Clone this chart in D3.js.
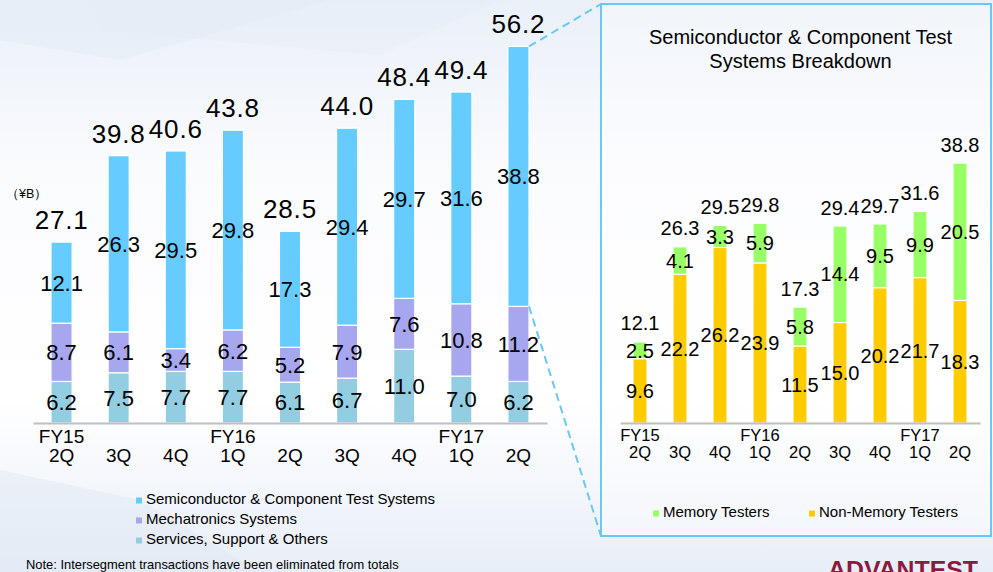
<!DOCTYPE html>
<html>
<head>
<meta charset="utf-8">
<script src="https://cdn.jsdelivr.net/npm/d3@7"></script>
<style>
  html, body { margin: 0; padding: 0; background: #fff; }
  svg { display: block; font-family: "Liberation Sans", Arial, sans-serif; }
</style>
</head>
<body>
<svg id="chart" width="993" height="572"></svg>
<script>
// ---------- DATA ----------
const fiscalYears = ["FY15", "", "", "FY16", "", "", "", "FY17", ""];
const quarters    = ["2Q", "3Q", "4Q", "1Q", "2Q", "3Q", "4Q", "1Q", "2Q"];

const servicesVals = [6.2, 7.5, 7.7, 7.7, 6.1, 6.7, 11.0, 7.0, 6.2];
const mechaVals    = [8.7, 6.1, 3.4, 6.2, 5.2, 7.9, 7.6, 10.8, 11.2];
const semiVals     = [12.1, 26.3, 29.5, 29.8, 17.3, 29.4, 29.7, 31.6, 38.8];
const totalVals    = [27.1, 39.8, 40.6, 43.8, 28.5, 44.0, 48.4, 49.4, 56.2];

const nonMemoryVals = [9.6, 22.2, 26.2, 23.9, 11.5, 15.0, 20.2, 21.7, 18.3];
const memoryVals    = [2.5, 4.1, 3.3, 5.9, 5.8, 14.4, 9.5, 9.9, 20.5];
const semiTotals    = [12.1, 26.3, 29.5, 29.8, 17.3, 29.4, 29.7, 31.6, 38.8];

const leftSeries  = ["Services, Support & Others", "Mechatronics Systems", "Semiconductor & Component Test Systems"];
const rightSeries = ["Non-Memory Testers", "Memory Testers"];

// ---------- STYLE ----------
const leftColors  = ["#92CDE2", "#A7A7EF", "#66CCFF"];
const rightColors = ["#FFCC00", "#99FF66"];
const boxColor = "#6AC8F5";

const svg = d3.select("#chart");
const W = 993, H = 572;

// background
const defs = svg.append("defs");
const bg = defs.append("linearGradient").attr("id", "bg").attr("x1", 0).attr("y1", 0).attr("x2", 0).attr("y2", 1);
bg.append("stop").attr("offset", "0%").attr("stop-color", "#EAF0F8");
bg.append("stop").attr("offset", "30%").attr("stop-color", "#FAFBFD");
bg.append("stop").attr("offset", "70%").attr("stop-color", "#FFFFFF");
bg.append("stop").attr("offset", "100%").attr("stop-color", "#E8EEF7");
svg.append("rect").attr("width", W).attr("height", H).attr("fill", "url(#bg)");
svg.append("polygon").attr("points", "0,0 330,0 120,60 0,40").attr("fill", "#DCE7F4").attr("opacity", 0.35);
svg.append("polygon").attr("points", "90,0 500,0 380,55 100,30").attr("fill", "#E4ECF6").attr("opacity", 0.35);
svg.append("polygon").attr("points", "0,572 0,470 140,500 260,572").attr("fill", "#DDE6F2").attr("opacity", 0.4);

// ---------- SHARED Y SCALE ----------
const y = d3.scaleLinear().domain([0, 60]).range([423, 21]);

// ---------- LEFT CHART ----------
const xL = d3.scaleBand().domain(d3.range(9)).range([33, 547]).paddingInner(0.63).paddingOuter(0.315);
const leftRows = d3.range(9).map(i => ({ i, s0: servicesVals[i], s1: mechaVals[i], s2: semiVals[i] }));
const leftStack = d3.stack().keys(["s0", "s1", "s2"])(leftRows);

const gL = svg.append("g");
leftStack.forEach((layer, k) => {
  gL.selectAll(null).data(layer).enter().append("rect")
    .attr("x", d => xL(d.data.i))
    .attr("width", xL.bandwidth())
    .attr("y", d => y(d[1]))
    .attr("height", d => y(d[0]) - y(d[1]))
    .attr("fill", leftColors[k])
    .attr("stroke", "#fff").attr("stroke-width", 1.2);
});
leftStack.forEach((layer, k) => {
  gL.selectAll(null).data(layer).enter().append("text")
    .attr("x", d => xL(d.data.i) + xL.bandwidth() / 2)
    .attr("y", d => (y(d[0]) + y(d[1])) / 2)
    .attr("dy", "0.36em")
    .attr("text-anchor", "middle")
    .attr("font-size", 22)
    .attr("fill", "#000")
    .text(d => (d[1] - d[0]).toFixed(1));
});
gL.selectAll(null).data(leftRows).enter().append("text")
  .attr("x", d => xL(d.i) + xL.bandwidth() / 2)
  .attr("y", d => y(d.s0 + d.s1 + d.s2) - 13)
  .attr("text-anchor", "middle")
  .attr("font-size", 26)
  .attr("letter-spacing", 0.8)
  .attr("fill", "#000")
  .text(d => totalVals[d.i].toFixed(1));

const axL = gL.append("g").attr("transform", "translate(0,423)")
  .call(d3.axisBottom(xL).tickSize(0).tickFormat(""));
axL.select(".domain").attr("stroke", "#BFBFBF").attr("stroke-width", 2);
d3.range(9).forEach(i => {
  const cx = xL(i) + xL.bandwidth() / 2;
  gL.append("text").attr("x", cx).attr("y", 443).attr("text-anchor", "middle").attr("font-size", 19).text(fiscalYears[i]);
  gL.append("text").attr("x", cx).attr("y", 462).attr("text-anchor", "middle").attr("font-size", 19).text(quarters[i]);
});
svg.append("text").attr("x", 6).attr("y", 198).attr("font-size", 12.5).attr("fill", "#000").text("（¥B）");

// left legend
const legL = svg.append("g");
[2, 1, 0].forEach((k, r) => {
  const by = 503.5 + r * 20;
  legL.append("rect").attr("x", 136).attr("y", by - 6).attr("width", 6).attr("height", 6).attr("fill", leftColors[k]);
  legL.append("text").attr("x", 146).attr("y", by).attr("font-size", 15).text(leftSeries[k]);
});
svg.append("text").attr("x", 26).attr("y", 568.5).attr("font-size", 12.9).text("Note: Intersegment transactions have been eliminated from totals");

// ---------- RIGHT PANEL ----------
const lastX = xL(8) + xL.bandwidth();
svg.append("rect").attr("x", 601).attr("y", 4).attr("width", 390).attr("height", 532)
  .attr("fill", "#FFFFFF").attr("fill-opacity", 0.35)
  .attr("stroke", boxColor).attr("stroke-width", 2);
svg.append("line").attr("x1", lastX).attr("y1", y(totalVals[8])).attr("x2", 601).attr("y2", 4)
  .attr("stroke", boxColor).attr("stroke-width", 2).attr("stroke-dasharray", "8,5");
svg.append("line").attr("x1", lastX).attr("y1", y(servicesVals[8] + mechaVals[8])).attr("x2", 601).attr("y2", 536)
  .attr("stroke", boxColor).attr("stroke-width", 2).attr("stroke-dasharray", "8,5");

svg.append("text").attr("x", 800.5).attr("y", 43.5).attr("text-anchor", "middle").attr("font-size", 20).text("Semiconductor & Component Test");
svg.append("text").attr("x", 800.5).attr("y", 67.5).attr("text-anchor", "middle").attr("font-size", 20).text("Systems Breakdown");

const xR = d3.scaleBand().domain(d3.range(9)).range([620, 980]).paddingInner(0.65).paddingOuter(0.325);
const rightRows = d3.range(9).map(i => ({ i, n: nonMemoryVals[i], m: memoryVals[i] }));
const rightStack = d3.stack().keys(["n", "m"])(rightRows);
const gR = svg.append("g");
rightStack.forEach((layer, k) => {
  gR.selectAll(null).data(layer).enter().append("rect")
    .attr("x", d => xR(d.data.i))
    .attr("width", xR.bandwidth())
    .attr("y", d => y(d[1]))
    .attr("height", d => y(d[0]) - y(d[1]))
    .attr("fill", rightColors[k])
    .attr("stroke", "#fff").attr("stroke-width", 1.2);
});
rightStack.forEach((layer, k) => {
  gR.selectAll(null).data(layer).enter().append("text")
    .attr("x", d => xR(d.data.i) + xR.bandwidth() / 2)
    .attr("y", d => (y(d[0]) + y(d[1])) / 2)
    .attr("dy", "0.36em")
    .attr("text-anchor", "middle")
    .attr("font-size", 20)
    .text(d => (d[1] - d[0]).toFixed(1));
});
gR.selectAll(null).data(rightRows).enter().append("text")
  .attr("x", d => xR(d.i) + xR.bandwidth() / 2)
  .attr("y", d => y(d.n + d.m) - 11.5)
  .attr("text-anchor", "middle")
  .attr("font-size", 20)
  .text(d => semiTotals[d.i].toFixed(1));
const axR = gR.append("g").attr("transform", "translate(0,423)")
  .call(d3.axisBottom(xR).tickSize(0).tickFormat(""));
axR.select(".domain").attr("stroke", "#BFBFBF").attr("stroke-width", 2);
d3.range(9).forEach(i => {
  const cx = xR(i) + xR.bandwidth() / 2;
  gR.append("text").attr("x", cx).attr("y", 440.5).attr("text-anchor", "middle").attr("font-size", 16.5).text(fiscalYears[i]);
  gR.append("text").attr("x", cx).attr("y", 457.5).attr("text-anchor", "middle").attr("font-size", 16.5).text(quarters[i]);
});

// right legend
const legR = svg.append("g");
[[1, 653, 663], [0, 809, 819]].forEach(([k, sx, tx]) => {
  legR.append("rect").attr("x", sx).attr("y", 510.5).attr("width", 6).attr("height", 6).attr("fill", rightColors[k]);
  legR.append("text").attr("x", tx).attr("y", 516.7).attr("font-size", 15).text(rightSeries[k]);
});

// logo (cut off at the bottom edge, as in the reference)
svg.append("text").attr("x", 828).attr("y", 578).attr("font-size", 24).attr("font-weight", 900)
  .attr("fill", "#8C1A3E").attr("textLength", 150).attr("lengthAdjust", "spacingAndGlyphs").text("ADVANTEST");
</script>
</body>
</html>
